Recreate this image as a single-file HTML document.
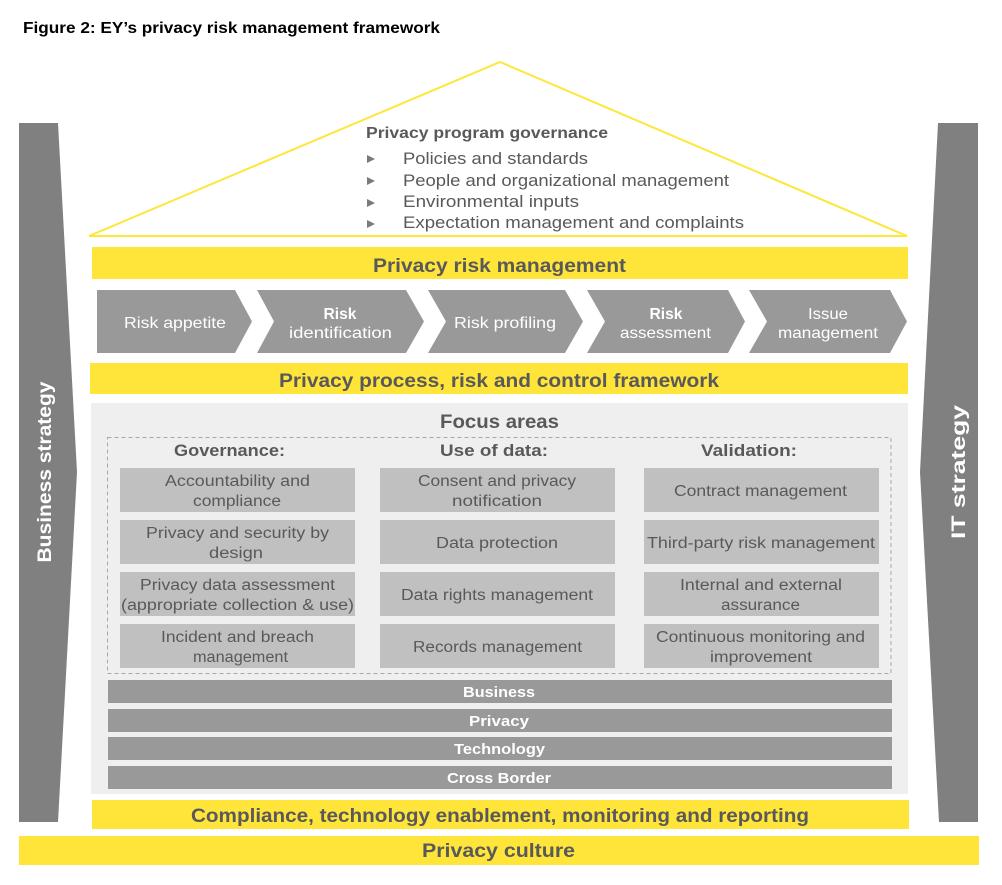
<!DOCTYPE html>
<html><head><meta charset="utf-8"><style>
html,body{margin:0;padding:0;background:#fff;}
svg{display:block;}
text{font-family:"Liberation Sans",sans-serif;}
</style></head><body>
<svg width="1002" height="885" viewBox="0 0 1002 885" xmlns="http://www.w3.org/2000/svg">
<rect x="0" y="0" width="1002" height="885" fill="#fff"/>
<!-- title -->
<text x="23" y="33" font-size="15.5" font-weight="bold" fill="#000" textLength="417" lengthAdjust="spacingAndGlyphs">Figure 2: EY’s privacy risk management framework</text>

<!-- pillars -->
<polygon points="19,123 58,123 77,472 58,822 19,822" fill="#808080"/>
<polygon points="938,123 978,123 978,822 939,822 920,472" fill="#808080"/>
<text transform="translate(51,472) rotate(-90)" text-anchor="middle" font-size="19" font-weight="bold" fill="#fff" textLength="181" lengthAdjust="spacingAndGlyphs">Business strategy</text>
<text transform="translate(965,472) rotate(-90)" text-anchor="middle" font-size="19" font-weight="bold" fill="#fff" textLength="134" lengthAdjust="spacingAndGlyphs">IT strategy</text>

<!-- roof -->
<polygon points="89,236 500,62 907,236" fill="none" stroke="#ffe63b" stroke-width="2"/>
<g fill="#59595b">
<text x="366" y="138" font-size="16" font-weight="bold" textLength="242" lengthAdjust="spacingAndGlyphs">Privacy program governance</text>
<polygon points="367,155 375,159 367,163" fill="#7a7a7a"/>
<polygon points="367,177 375,181 367,185" fill="#7a7a7a"/>
<polygon points="367,199 375,203 367,207" fill="#7a7a7a"/>
<polygon points="367,220 375,224 367,228" fill="#7a7a7a"/>
<text x="403" y="164" font-size="16.5" textLength="185" lengthAdjust="spacingAndGlyphs">Policies and standards</text>
<text x="403" y="186" font-size="16.5" textLength="326" lengthAdjust="spacingAndGlyphs">People and organizational management</text>
<text x="403" y="207" font-size="16.5" textLength="176" lengthAdjust="spacingAndGlyphs">Environmental inputs</text>
<text x="403" y="228" font-size="16.5" textLength="341" lengthAdjust="spacingAndGlyphs">Expectation management and complaints</text>
</g>

<!-- privacy risk management bar -->
<rect x="92" y="247" width="816" height="32" fill="#ffe539"/>
<text x="499.5" y="272" text-anchor="middle" font-size="19" font-weight="bold" fill="#59595b" textLength="253" lengthAdjust="spacingAndGlyphs">Privacy risk management</text>

<!-- chevrons -->
<g fill="#999">
<polygon points="97,290 235,290 252,321.5 235,353 97,353"/>
<polygon points="257,290 406,290 424,321.5 406,353 257,353 274,321.5"/>
<polygon points="428,290 565,290 583,321.5 565,353 428,353 446,321.5"/>
<polygon points="587,290 728,290 745,321.5 728,353 587,353 605,321.5"/>
<polygon points="749,290 890,290 907,321.5 890,353 749,353 767,321.5"/>
</g>
<g fill="#fff" font-size="16" text-anchor="middle">
<text x="175" y="328" textLength="102" lengthAdjust="spacingAndGlyphs">Risk appetite</text>
<text x="340" y="319" font-weight="bold" textLength="33" lengthAdjust="spacingAndGlyphs">Risk</text>
<text x="340.5" y="338" textLength="103" lengthAdjust="spacingAndGlyphs">identification</text>
<text x="505" y="328" textLength="102" lengthAdjust="spacingAndGlyphs">Risk profiling</text>
<text x="666" y="319" font-weight="bold" textLength="33" lengthAdjust="spacingAndGlyphs">Risk</text>
<text x="665.5" y="338" textLength="91" lengthAdjust="spacingAndGlyphs">assessment</text>
<text x="828" y="319" textLength="40" lengthAdjust="spacingAndGlyphs">Issue</text>
<text x="828" y="338" textLength="100" lengthAdjust="spacingAndGlyphs">management</text>
</g>

<!-- privacy process bar -->
<rect x="90" y="363" width="818" height="31" fill="#ffe539"/>
<text x="499" y="387" text-anchor="middle" font-size="19" font-weight="bold" fill="#59595b" textLength="440" lengthAdjust="spacingAndGlyphs">Privacy process, risk and control framework</text>

<!-- focus panel -->
<rect x="91" y="403" width="817" height="391" fill="#efefef"/>
<text x="499.5" y="428" text-anchor="middle" font-size="19" font-weight="bold" fill="#59595b" textLength="119" lengthAdjust="spacingAndGlyphs">Focus areas</text>
<rect x="107.5" y="437.5" width="783.5" height="236" fill="none" stroke="#a8a8a8" stroke-width="1" stroke-dasharray="4,3"/>
<g fill="#59595b" font-size="17" font-weight="bold" text-anchor="middle">
<text x="229.5" y="456" textLength="111" lengthAdjust="spacingAndGlyphs">Governance:</text>
<text x="494" y="456" textLength="108" lengthAdjust="spacingAndGlyphs">Use of data:</text>
<text x="749" y="456" textLength="96" lengthAdjust="spacingAndGlyphs">Validation:</text>
</g>
<g fill="#c0c0c0">
<rect x="120" y="468" width="235" height="44"/>
<rect x="120" y="520" width="235" height="44"/>
<rect x="120" y="572" width="235" height="44"/>
<rect x="120" y="624" width="235" height="44"/>
<rect x="380" y="468" width="235" height="44"/>
<rect x="380" y="520" width="235" height="44"/>
<rect x="380" y="572" width="235" height="44"/>
<rect x="380" y="624" width="235" height="44"/>
<rect x="644" y="468" width="235" height="44"/>
<rect x="644" y="520" width="235" height="44"/>
<rect x="644" y="572" width="235" height="44"/>
<rect x="644" y="624" width="235" height="44"/>
</g>
<g fill="#59595b" font-size="15.5" text-anchor="middle">
<text x="237.5" y="486" textLength="145" lengthAdjust="spacingAndGlyphs">Accountability and</text>
<text x="237" y="506" textLength="88" lengthAdjust="spacingAndGlyphs">compliance</text>
<text x="237.5" y="538" textLength="183" lengthAdjust="spacingAndGlyphs">Privacy and security by</text>
<text x="236" y="558" textLength="54" lengthAdjust="spacingAndGlyphs">design</text>
<text x="237.5" y="590" textLength="195" lengthAdjust="spacingAndGlyphs">Privacy data assessment</text>
<text x="237.5" y="610" textLength="233" lengthAdjust="spacingAndGlyphs">(appropriate collection &amp; use)</text>
<text x="237.5" y="642" textLength="153" lengthAdjust="spacingAndGlyphs">Incident and breach</text>
<text x="240.5" y="662" textLength="95" lengthAdjust="spacingAndGlyphs">management</text>

<text x="497" y="486" textLength="158" lengthAdjust="spacingAndGlyphs">Consent and privacy</text>
<text x="497" y="506" textLength="90" lengthAdjust="spacingAndGlyphs">notification</text>
<text x="497" y="548" textLength="122" lengthAdjust="spacingAndGlyphs">Data protection</text>
<text x="497" y="600" textLength="192" lengthAdjust="spacingAndGlyphs">Data rights management</text>
<text x="497.5" y="652" textLength="169" lengthAdjust="spacingAndGlyphs">Records management</text>

<text x="760.5" y="496" textLength="173" lengthAdjust="spacingAndGlyphs">Contract management</text>
<text x="761" y="548" textLength="228" lengthAdjust="spacingAndGlyphs">Third-party risk management</text>
<text x="761" y="590" textLength="162" lengthAdjust="spacingAndGlyphs">Internal and external</text>
<text x="760.5" y="610" textLength="79" lengthAdjust="spacingAndGlyphs">assurance</text>
<text x="760.5" y="642" textLength="209" lengthAdjust="spacingAndGlyphs">Continuous monitoring and</text>
<text x="761" y="662" textLength="102" lengthAdjust="spacingAndGlyphs">improvement</text>
</g>

<!-- dimension bars -->
<g fill="#999">
<rect x="108" y="680" width="784" height="23"/>
<rect x="108" y="709" width="784" height="23"/>
<rect x="108" y="737" width="784" height="23"/>
<rect x="108" y="766" width="784" height="23"/>
</g>
<g fill="#fff" font-size="15" font-weight="bold" text-anchor="middle">
<text x="499" y="697" textLength="72" lengthAdjust="spacingAndGlyphs">Business</text>
<text x="499" y="726" textLength="60" lengthAdjust="spacingAndGlyphs">Privacy</text>
<text x="499.5" y="754" textLength="91" lengthAdjust="spacingAndGlyphs">Technology</text>
<text x="499" y="783" textLength="104" lengthAdjust="spacingAndGlyphs">Cross Border</text>
</g>

<!-- bottom bars -->
<rect x="92" y="800" width="817" height="29" fill="#ffe539"/>
<text x="500" y="822" text-anchor="middle" font-size="19" font-weight="bold" fill="#59595b" textLength="618" lengthAdjust="spacingAndGlyphs">Compliance, technology enablement, monitoring and reporting</text>
<rect x="19" y="836" width="960" height="29" fill="#ffe539"/>
<text x="498.5" y="857" text-anchor="middle" font-size="19" font-weight="bold" fill="#59595b" textLength="153" lengthAdjust="spacingAndGlyphs">Privacy culture</text>
</svg>
</body></html>
